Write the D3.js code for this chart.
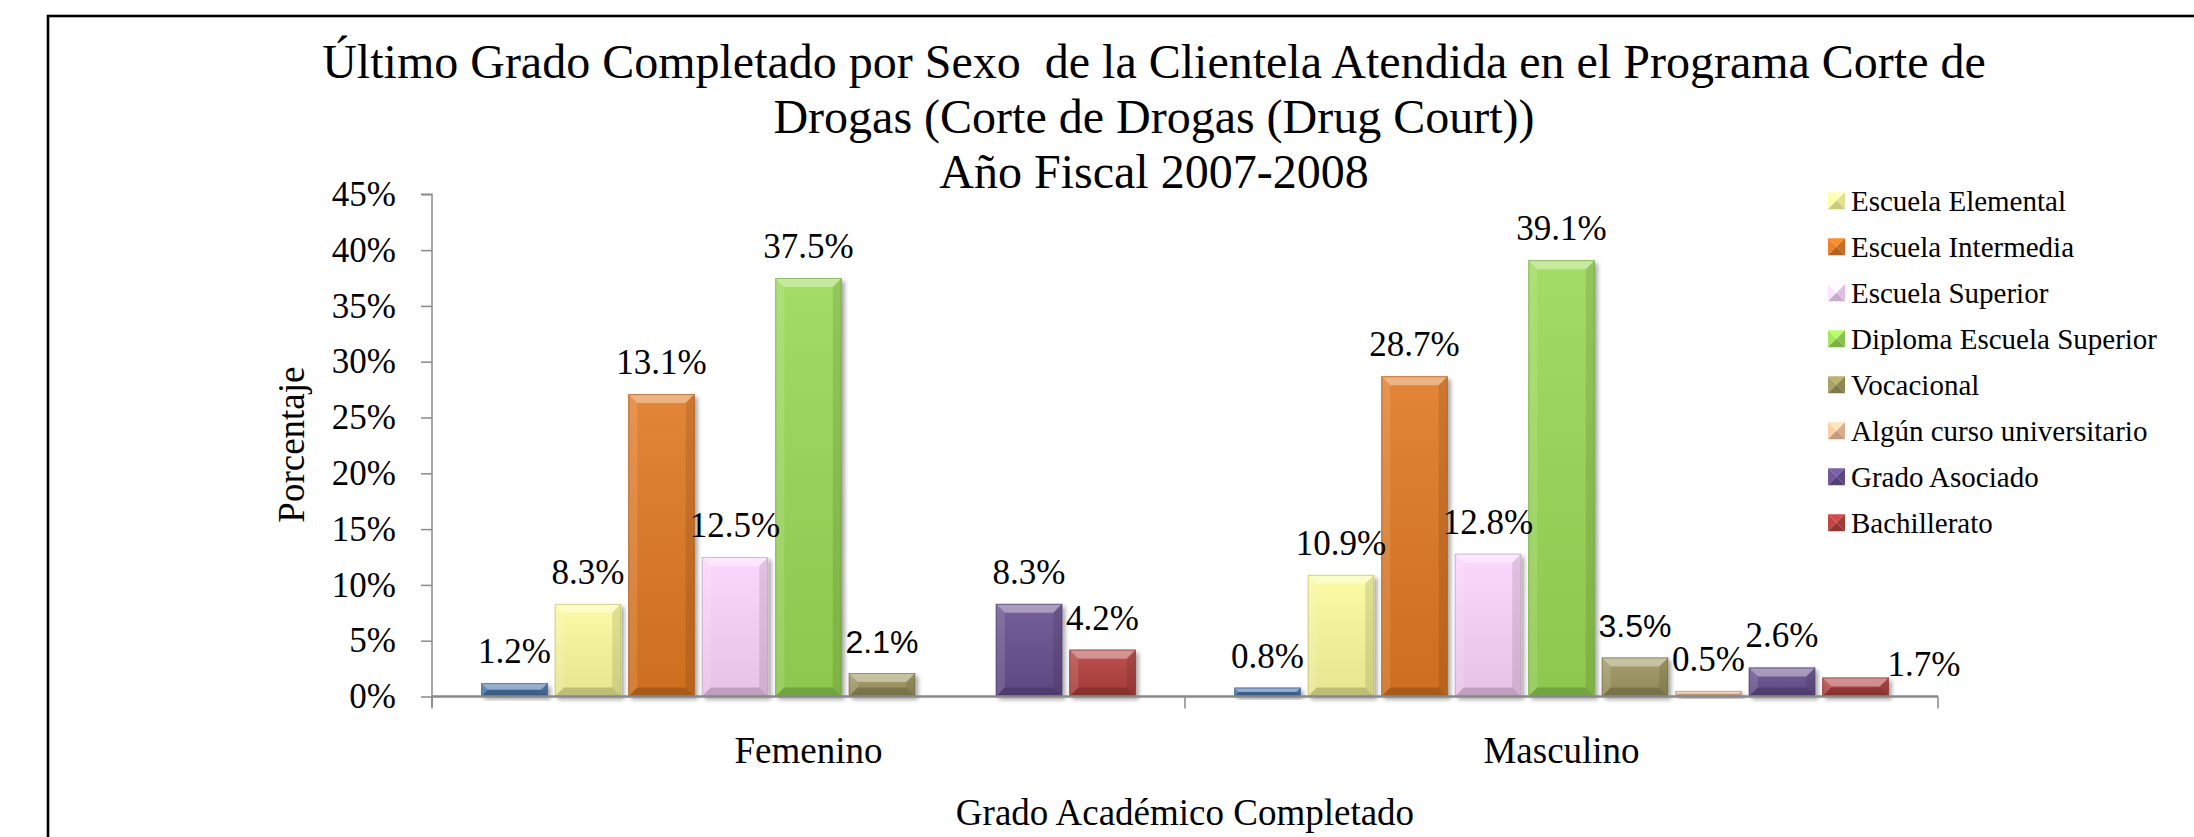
<!DOCTYPE html>
<html>
<head>
<meta charset="utf-8">
<script src="https://cdn.jsdelivr.net/npm/d3@7"></script>
<style>
  body { margin: 0; background: #fff; }
  svg { display: block; }
  text { font-family: "Liberation Serif", "Times New Roman", serif; fill: #000; }
</style>
</head>
<body>
<div id="chart"></div>
<script>
// chart data
var titleLines = [
    'Último Grado Completado por Sexo  de la Clientela Atendida en el Programa Corte de',
    'Drogas (Corte de Drogas (Drug Court))',
    'Año Fiscal 2007-2008'
];
var sexes = ['Femenino', 'Masculino'];
// first series has no visible legend entry in the picture
var grades = ['', 'Escuela Elemental', 'Escuela Intermedia', 'Escuela Superior',
    'Diploma Escuela Superior', 'Vocacional', 'Algún curso universitario',
    'Grado Asociado', 'Bachillerato'];
var gradeColors = ['#4a78b0', '#fbfb9c', '#e07823', '#fcd4fc', '#9ad955',
    '#9e965e', '#f3c09a', '#66508e', '#b4403e'];
var femeninoValues = [1.2, 8.3, 27.1, 12.5, 37.5, 2.1, 0, 8.3, 4.2];
var masculinoValues = [0.8, 10.9, 28.7, 12.8, 39.1, 3.5, 0.5, 2.6, 1.7];
// labels as printed on the chart (one does not match its bar)
var femeninoLabels = ['1.2%', '8.3%', '13.1%', '12.5%', '37.5%', '2.1%', '', '8.3%', '4.2%'];
var masculinoLabels = ['0.8%', '10.9%', '28.7%', '12.8%', '39.1%', '3.5%', '0.5%', '2.6%', '1.7%'];
var yTicks = [0, 5, 10, 15, 20, 25, 30, 35, 40, 45];
var yAxisTitle = 'Porcentaje';
var xAxisTitle = 'Grado Académico Completado';

var svgWidth = 2194;
var svgHeight = 837;

var plot = { left: 432, right: 1938, top: 194.3, bottom: 696.5 };

var svg = d3.select('#chart')
    .append('svg')
    .attr('width', svgWidth)
    .attr('height', svgHeight);

var defs = svg.append('defs');
var shadow = defs.append('filter')
    .attr('id', 'shadow')
    .attr('x', '-20%').attr('y', '-20%')
    .attr('width', '150%').attr('height', '150%');
shadow.append('feDropShadow')
    .attr('dx', 3).attr('dy', 3)
    .attr('stdDeviation', 2)
    .attr('flood-color', '#000')
    .attr('flood-opacity', 0.35);

var shade = defs.append('linearGradient')
    .attr('id', 'shade')
    .attr('x1', 0).attr('y1', 0).attr('x2', 0).attr('y2', 1);
shade.append('stop').attr('offset', '0%').attr('stop-color', '#fff').attr('stop-opacity', 0.1);
shade.append('stop').attr('offset', '100%').attr('stop-color', '#000').attr('stop-opacity', 0.08);

// outer frame
svg.append('rect')
    .attr('x', 48)
    .attr('y', 16)
    .attr('width', svgWidth)
    .attr('height', svgHeight)
    .attr('fill', 'none')
    .attr('stroke', '#000')
    .attr('stroke-width', 2.6);

// title
svg.append('g')
    .selectAll('text')
    .data(titleLines)
    .enter()
    .append('text')
    .attr('x', 1154)
    .attr('y', (d, i) => 78 + i * 55)
    .attr('text-anchor', 'middle')
    .style('font-size', '48px')
    .style('white-space', 'pre')
    .text(d => d);

// scales
var yScale = d3.scaleLinear()
    .domain([0, 45])
    .range([plot.bottom, plot.top]);

var xScale = d3.scaleBand()
    .domain(sexes)
    .range([plot.left, plot.right])
    .padding(0);

var innerScale = d3.scaleBand()
    .domain(d3.range(grades.length))
    .range([0, xScale.bandwidth()])
    .paddingInner(0.096)
    .paddingOuter(0.67);

// y axis
var leftAxis = d3.axisLeft(yScale)
    .tickValues(yTicks)
    .tickSize(11)
    .tickPadding(25)
    .tickFormat(d => d + '%');

var yAxis = svg.append('g')
    .attr('transform', `translate(${plot.left}, 0)`)
    .call(leftAxis);
yAxis.select('.domain').attr('stroke', '#8a8a8a').attr('stroke-width', 1.5)
    .attr('d', `M-11,${plot.top}H0V${plot.bottom + 11}`);
yAxis.selectAll('.tick line').attr('stroke', '#8a8a8a').attr('stroke-width', 1.5);
yAxis.selectAll('.tick text')
    .style('font-family', '"Liberation Serif", "Times New Roman", serif')
    .style('font-size', '35px')
    .attr('fill', '#000');

// bars
var seriesValues = [femeninoValues, masculinoValues];
var seriesLabels = [femeninoLabels, masculinoLabels];

var barData = [];
sexes.forEach(function(sex, s) {
    grades.forEach(function(grade, g) {
        barData.push({
            sex: sex,
            grade: g,
            value: seriesValues[s][g],
            label: seriesLabels[s][g]
        });
    });
});

var barsGroup = svg.append('g');

var bars = barsGroup.selectAll('g.bar')
    .data(barData.filter(d => d.value > 0))
    .enter()
    .append('g')
    .attr('class', 'bar');

bars.each(function(d) {
    var g = d3.select(this);
    var x = xScale(d.sex) + innerScale(d.grade);
    var w = innerScale.bandwidth();
    var y = yScale(d.value);
    var h = yScale(0) - y;
    var b = Math.min(9, h / 2, w / 2);

    g.append('rect')
        .attr('x', x).attr('y', y)
        .attr('width', w).attr('height', h)
        .attr('fill', gradeColors[d.grade])
        .attr('filter', 'url(#shadow)');
    g.append('rect')
        .attr('x', x).attr('y', y)
        .attr('width', w).attr('height', h)
        .attr('fill', 'url(#shade)');

    // bevel faces
    var faces = [
        { pts: [[x, y], [x + w, y], [x + w - b, y + b], [x + b, y + b]], fill: '#fff', op: 0.38 },
        { pts: [[x, y], [x + b, y + b], [x + b, y + h - b], [x, y + h]], fill: '#fff', op: 0.12 },
        { pts: [[x + w, y], [x + w, y + h], [x + w - b, y + h - b], [x + w - b, y + b]], fill: '#000', op: 0.10 },
        { pts: [[x, y + h], [x + b, y + h - b], [x + w - b, y + h - b], [x + w, y + h]], fill: '#000', op: 0.18 }
    ];
    g.selectAll('polygon')
        .data(faces)
        .enter()
        .append('polygon')
        .attr('points', f => f.pts.map(p => p.join(',')).join(' '))
        .attr('fill', f => f.fill)
        .attr('fill-opacity', f => f.op);

    g.append('rect')
        .attr('x', x + 0.5).attr('y', y + 0.5)
        .attr('width', w - 1).attr('height', Math.max(0, h - 1))
        .attr('fill', 'none')
        .attr('stroke', d3.color(gradeColors[d.grade]).darker(0.9))
        .attr('stroke-opacity', 0.6)
        .attr('stroke-width', 1);
});

// x axis line
svg.append('line')
    .attr('x1', plot.left).attr('x2', plot.right)
    .attr('y1', plot.bottom).attr('y2', plot.bottom)
    .attr('stroke', '#8a8a8a')
    .attr('stroke-width', 2.5);

// category boundary ticks
svg.append('g')
    .selectAll('line')
    .data(d3.range(sexes.length + 1))
    .enter()
    .append('line')
    .attr('x1', i => plot.left + i * xScale.bandwidth())
    .attr('x2', i => plot.left + i * xScale.bandwidth())
    .attr('y1', plot.bottom)
    .attr('y2', plot.bottom + 12)
    .attr('stroke', '#8a8a8a')
    .attr('stroke-width', 1.5);

// category labels
var bottomAxis = d3.axisBottom(xScale).tickSize(0).tickPadding(40);
var xAxis = svg.append('g')
    .attr('transform', `translate(0, ${plot.bottom})`)
    .call(bottomAxis);
xAxis.select('.domain').remove();
xAxis.selectAll('.tick text')
    .style('font-family', '"Liberation Serif", "Times New Roman", serif')
    .style('font-size', '37px')
    .attr('fill', '#000');

// data labels
var sansLabels = ['2.1%', '3.5%'];
svg.append('g')
    .selectAll('text')
    .data(barData.filter(d => d.label !== ''))
    .enter()
    .append('text')
    .attr('x', function(d) {
        var cx = xScale(d.sex) + innerScale(d.grade) + innerScale.bandwidth() / 2;
        // last label of the chart sits to the right of its bar
        if (d.sex === 'Masculino' && d.grade === grades.length - 1) cx += innerScale.step() * 0.93;
        return cx;
    })
    .attr('y', function(d) {
        if (d.sex === 'Masculino' && d.grade === grades.length - 1) return yScale(d.value) - 2;
        return yScale(d.value) - 20;
    })
    .attr('text-anchor', 'middle')
    .style('font-size', d => sansLabels.indexOf(d.label) >= 0 ? '32px' : '35px')
    .style('font-family', d => sansLabels.indexOf(d.label) >= 0 ? '"Liberation Sans", Arial, sans-serif' : null)
    .text(d => d.label);

// axis titles
svg.append('text')
    .attr('transform', 'rotate(-90)')
    .attr('x', -444.6)
    .attr('y', 304)
    .attr('text-anchor', 'middle')
    .style('font-size', '37px')
    .text(yAxisTitle);

svg.append('text')
    .attr('x', (plot.left + plot.right) / 2)
    .attr('y', 825)
    .attr('text-anchor', 'middle')
    .style('font-size', '37px')
    .text(xAxisTitle);

// legend (first series is not listed)
var legendItems = d3.range(1, grades.length);
var legend = svg.append('g')
    .attr('transform', 'translate(1828, 200.7)');

var legendRows = legend.selectAll('g')
    .data(legendItems)
    .enter()
    .append('g')
    .attr('transform', (d, i) => `translate(0, ${i * 46})`);

legendRows.each(function(d) {
    var g = d3.select(this);
    var s = 17, c = s / 2;
    var col = d3.color(gradeColors[d]);
    var faces = [
        { pts: [[0, -c], [s, -c], [c, 0]], fill: col.brighter(0.5) },
        { pts: [[0, -c], [c, 0], [0, c]], fill: col.brighter(0.2) },
        { pts: [[s, -c], [s, c], [c, 0]], fill: col.darker(0.3) },
        { pts: [[0, c], [c, 0], [s, c]], fill: col.darker(0.6) }
    ];
    g.selectAll('polygon')
        .data(faces)
        .enter()
        .append('polygon')
        .attr('points', f => f.pts.map(p => p.join(',')).join(' '))
        .attr('fill', f => f.fill);
});

legendRows.append('text')
    .attr('x', 23)
    .attr('dy', '0.35em')
    .style('font-size', '29px')
    .text(d => grades[d]);
</script>
</body>
</html>
